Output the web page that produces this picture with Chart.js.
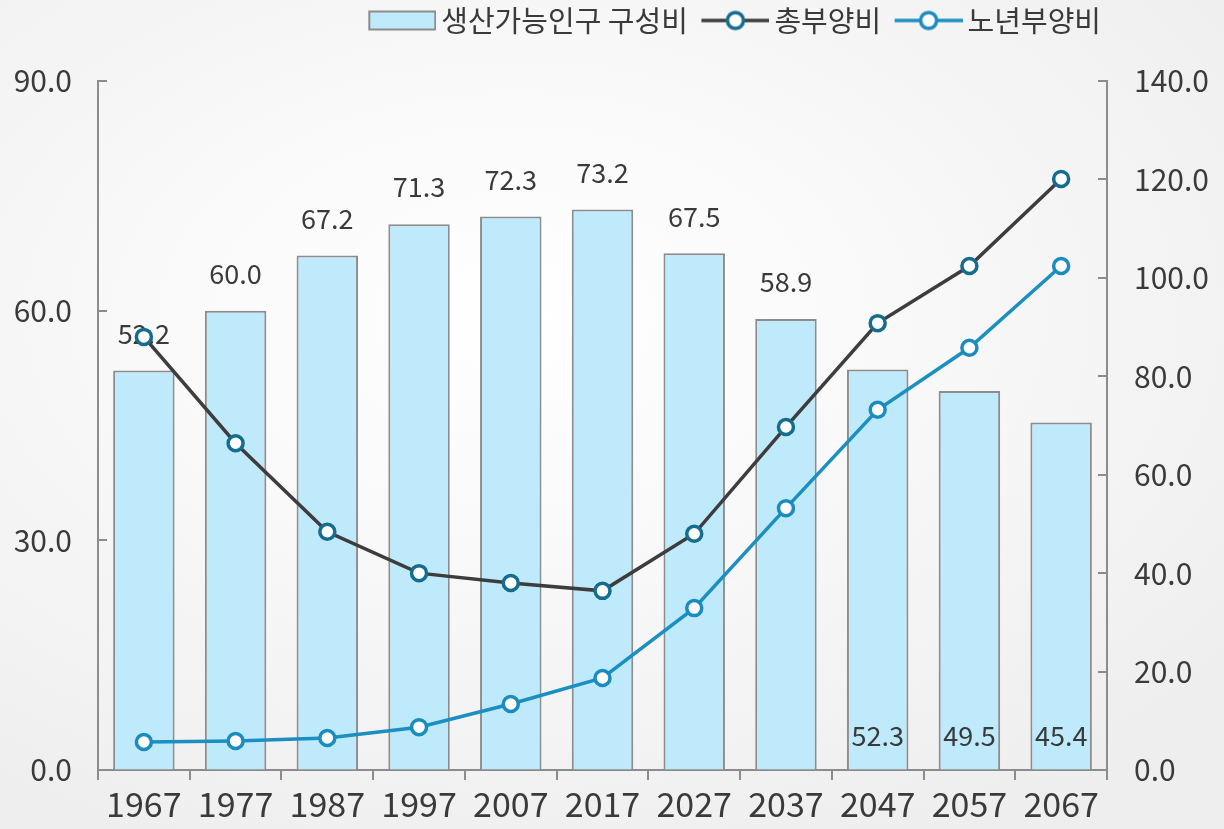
<!DOCTYPE html>
<html>
<head>
<meta charset="utf-8">
<script src="https://cdn.jsdelivr.net/npm/chart.js@4.4.1/dist/chart.umd.min.js"></script>
<style>
html, body { margin: 0; padding: 0; }
body {
  width: 1224px; height: 829px; overflow: hidden;
  background: radial-gradient(ellipse 75% 70% at 42% 38%, #ffffff 0%, #f9f9f9 40%, #eeeeee 100%);
}
#wrap { position: relative; width: 1224px; height: 829px; }
</style>
</head>
<body>
<div id="wrap"><canvas id="c" width="1224" height="829"></canvas></div>
<script>
// ---- data ----
const years = ['1967','1977','1987','1997','2007','2017','2027','2037','2047','2057','2067'];
const workingAgeShare = [52.2, 60.0, 67.2, 71.3, 72.3, 73.2, 67.5, 58.9, 52.3, 49.5, 45.4];
const totalDependency = [88.0, 66.4, 48.4, 40.0, 38.0, 36.4, 48.0, 69.7, 90.8, 102.4, 120.1];
const oldAgeDependency = [5.7, 5.9, 6.5, 8.7, 13.4, 18.7, 32.9, 53.2, 73.2, 85.8, 102.4];
const leftTicks = [0, 30, 60, 90];
const rightTicks = [0, 20, 40, 60, 80, 100, 120, 140];
const seriesNames = ['생산가능인구 구성비', '총부양비', '노년부양비'];
const insideLabelYears = ['2047', '2057', '2067'];

// ---- styles ----
const FONT = '"Noto Sans CJK KR", "Noto Sans", sans-serif';
const AXIS = '#8c8c8c';
const TEXT = '#3a3a3a';
const BAR_FILL = '#bfeafc';
const TOTAL_LINE = '#3d3d3d';
const TOTAL_PT = '#146c8e';
const OLD_LINE = '#1b8fc2';
const OLD_PT = '#1b8cbf';
const LEG_BOX = 66;          // legend box width
const LEG_CANVAS = 85;       // legend image canvas width (content right-aligned)
const LEG_CONTENT = 68;

function legendRect() {
  const c = document.createElement('canvas'); c.width = LEG_CANVAS; c.height = 22;
  const x = c.getContext('2d');
  const x0 = LEG_CANVAS - LEG_CONTENT;
  x.fillStyle = BAR_FILL; x.fillRect(x0 + 1, 2, LEG_CONTENT - 2, 18);
  x.strokeStyle = AXIS; x.lineWidth = 2; x.strokeRect(x0 + 1, 2, LEG_CONTENT - 2, 18);
  return c;
}
function legendLine(lineColor, ptColor) {
  const c = document.createElement('canvas'); c.width = LEG_CANVAS; c.height = 24;
  const x = c.getContext('2d');
  const x0 = LEG_CANVAS - LEG_CONTENT;
  x.strokeStyle = lineColor; x.lineWidth = 3.5;
  x.beginPath(); x.moveTo(x0, 12); x.lineTo(LEG_CANVAS, 12); x.stroke();
  x.beginPath(); x.arc(x0 + LEG_CONTENT / 2, 12, 8, 0, Math.PI * 2);
  x.fillStyle = '#ffffff'; x.fill();
  x.strokeStyle = ptColor; x.lineWidth = 3.5; x.stroke();
  return c;
}
const legendImgs = [legendRect(), legendLine(TOTAL_LINE, TOTAL_PT), legendLine(OLD_LINE, OLD_PT)];

const legendFix = {
  id: 'legendFix',
  afterInit(chart) {
    const lg = chart.legend;
    if (!lg) return;
    const orig = lg.fit;
    lg.fit = function () { orig.call(this); this.height = 81; };
  }
};

const yTicksInward = {
  id: 'yTicksInward',
  beforeDatasetsDraw(chart) {
    const ctx = chart.ctx;
    const yl = chart.scales.yL, yr = chart.scales.yR;
    ctx.save();
    ctx.strokeStyle = AXIS; ctx.lineWidth = 2;
    leftTicks.forEach(v => {
      const y = Math.round(yl.getPixelForValue(v));
      ctx.beginPath(); ctx.moveTo(yl.right, y); ctx.lineTo(yl.right + 9, y); ctx.stroke();
    });
    rightTicks.forEach(v => {
      const y = Math.round(yr.getPixelForValue(v));
      ctx.beginPath(); ctx.moveTo(yr.left - 9, y); ctx.lineTo(yr.left, y); ctx.stroke();
    });
    ctx.restore();
  }
};

const barLabels = {
  id: 'barLabels',
  afterDatasetDraw(chart, args) {
    if (args.index !== 0) return;
    const ctx = chart.ctx;
    const meta = args.meta;
    const base = chart.scales.yL.getPixelForValue(0);
    ctx.save();
    ctx.font = '27px ' + FONT;
    ctx.fillStyle = TEXT;
    ctx.textAlign = 'center';
    ctx.textBaseline = 'middle';
    meta.data.forEach((el, i) => {
      const txt = workingAgeShare[i].toFixed(1);
      const inside = insideLabelYears.includes(years[i]);
      const y = inside ? base - 34 : el.y - 37;
      ctx.fillText(txt, el.x, y);
    });
    ctx.restore();
  }
};

new Chart(document.getElementById('c'), {
  type: 'bar',
  data: {
    labels: years,
    datasets: [
      {
        type: 'bar', label: seriesNames[0], data: workingAgeShare, yAxisID: 'yL',
        backgroundColor: BAR_FILL, borderColor: AXIS, borderWidth: 2,
        barPercentage: 0.67, categoryPercentage: 1.0, order: 3
      },
      {
        type: 'line', label: seriesNames[1], data: totalDependency, yAxisID: 'yR',
        borderColor: TOTAL_LINE, borderWidth: 3.5, pointRadius: 7.5, pointBorderWidth: 3.5,
        pointBackgroundColor: '#ffffff', pointBorderColor: TOTAL_PT, tension: 0, order: 2
      },
      {
        type: 'line', label: seriesNames[2], data: oldAgeDependency, yAxisID: 'yR',
        borderColor: OLD_LINE, borderWidth: 3.5, pointRadius: 7.5, pointBorderWidth: 3.5,
        pointBackgroundColor: '#ffffff', pointBorderColor: OLD_PT, tension: 0, order: 1
      }
    ]
  },
  options: {
    responsive: false,
    animation: false,
    devicePixelRatio: 1,
    layout: { padding: 0 },
    plugins: {
      tooltip: { enabled: false },
      legend: {
        position: 'top', align: 'end', fullSize: false,
        labels: {
          usePointStyle: true, pointStyleWidth: LEG_BOX, boxHeight: 22, padding: 6,
          color: TEXT, font: { family: FONT, size: 29 },
          generateLabels(chart) {
            return chart.data.datasets.map((ds, i) => ({
              text: ds.label, pointStyle: legendImgs[i], datasetIndex: i,
              fillStyle: 'transparent', strokeStyle: 'transparent', lineWidth: 0, hidden: false,
              fontColor: TEXT
            }));
          }
        }
      }
    },
    scales: {
      x: {
        grid: { offset: true, display: true, drawOnChartArea: false, drawTicks: true, tickLength: 10, color: AXIS, lineWidth: 2 },
        border: { display: true, color: AXIS, width: 2 },
        ticks: { color: TEXT, font: { family: FONT, size: 34 }, padding: 4, maxRotation: 0, autoSkip: false },
        afterFit(s) { s.height = 59; }
      },
      yL: {
        position: 'left', min: 0, max: 90,
        afterBuildTicks(s) { s.ticks = leftTicks.map(v => ({ value: v })); },
        grid: { display: true, drawOnChartArea: false, drawTicks: false },
        border: { display: true, color: AXIS, width: 2 },
        ticks: { color: TEXT, font: { family: FONT, size: 30 }, padding: 26, callback: v => Number(v).toFixed(1) },
        afterFit(s) { s.width = 98; }
      },
      yR: {
        position: 'right', min: 0, max: 140,
        afterBuildTicks(s) { s.ticks = rightTicks.map(v => ({ value: v })); },
        grid: { display: true, drawOnChartArea: false, drawTicks: false },
        border: { display: true, color: AXIS, width: 2 },
        ticks: { color: TEXT, font: { family: FONT, size: 30 }, padding: 27, callback: v => Number(v).toFixed(1) },
        afterFit(s) { s.width = 117; }
      }
    }
  },
  plugins: [legendFix, yTicksInward, barLabels]
});
</script>
</body>
</html>
